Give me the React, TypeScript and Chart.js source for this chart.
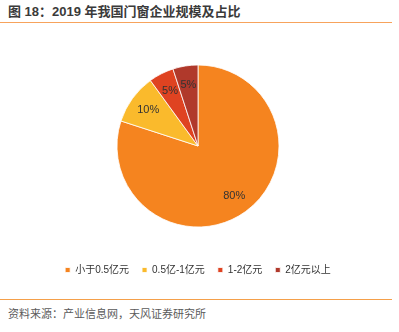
import React, { useEffect, useRef } from "react";
import { Chart, registerables } from "chart.js";

Chart.register(...registerables);

const TITLE = "图 18：2019 年我国门窗企业规模及占比";
const SOURCE = "资料来源：产业信息网，天风证券研究所";
const categories = ["小于0.5亿元", "0.5亿-1亿元", "1-2亿元", "2亿元以上"];
const shares = [80, 10, 5, 5];
const colors = ["#F5841F", "#FABA2C", "#DF4321", "#B0392B"];

const FONT = '"Liberation Sans", "Noto Sans CJK SC", sans-serif';

const labelPlugin = {
  id: "sliceLabels",
  afterDatasetsDraw(chart: any) {
    const ctx = chart.ctx;
    const meta = chart.getDatasetMeta(0);
    const data = chart.data.datasets[0].data as number[];
    ctx.save();
    ctx.font = `11px ${FONT}`;
    ctx.fillStyle = "#333333";
    ctx.textAlign = "center";
    ctx.textBaseline = "middle";
    meta.data.forEach((arc: any, i: number) => {
      const p = arc.getProps(["x", "y", "startAngle", "endAngle", "outerRadius"], true);
      const mid = (p.startAngle + p.endAngle) / 2;
      const r = p.outerRadius * 0.76;
      ctx.fillText(`${data[i]}%`, p.x + Math.cos(mid) * r, p.y + Math.sin(mid) * r);
    });
    ctx.restore();
  },
};

export default function App() {
  const ref = useRef<HTMLCanvasElement | null>(null);
  useEffect(() => {
    if (!ref.current) return;
    const chart = new Chart(ref.current, {
      type: "pie",
      data: {
        labels: categories,
        datasets: [
          {
            data: shares,
            backgroundColor: colors,
            borderColor: "#ffffff",
            borderWidth: 0.8,
          },
        ],
      },
      options: {
        responsive: false,
        animation: false,
        radius: 81,
        layout: { padding: { top: 40, left: 0, right: 3, bottom: 5 } },
        plugins: {
          tooltip: { enabled: false },
          legend: {
            position: "bottom",
            labels: {
              boxWidth: 5,
              boxHeight: 5,
              padding: 13,
              color: "#333333",
              font: { size: 10, family: FONT },
            },
          },
        },
      },
      plugins: [labelPlugin],
    } as any);
    return () => chart.destroy();
  }, []);

  return (
    <div style={{ position: "absolute", left: 0, top: 0, width: 399, height: 332, background: "#fff", overflow: "hidden" }}>
      <div
        style={{
          position: "absolute",
          left: 8,
          top: 3,
          fontFamily: FONT,
          fontSize: 13,
          fontWeight: "bold",
          lineHeight: "18px",
          color: "#3a3a3a",
          whiteSpace: "nowrap",
        }}
      >
        {TITLE}
      </div>
      <div style={{ position: "absolute", left: 0, top: 22, width: 392, height: 1, background: "#F7A35C" }} />
      <canvas ref={ref} width={399} height={290} style={{ position: "absolute", left: 0, top: 0 }} />
      <div style={{ position: "absolute", left: 0, top: 299, width: 392, height: 1, background: "#F5A04A" }} />
      <div
        style={{
          position: "absolute",
          left: 8,
          top: 306,
          fontFamily: FONT,
          fontSize: 11,
          lineHeight: "16px",
          color: "#5a5a5a",
          whiteSpace: "nowrap",
        }}
      >
        {SOURCE}
      </div>
    </div>
  );
}
